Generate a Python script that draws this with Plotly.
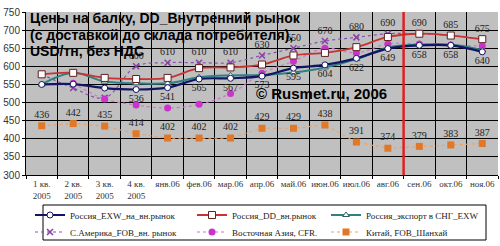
import plotly.graph_objects as go

categories = ["1 кв.<br>2005", "2 кв.<br>2005", "3 кв.<br>2005", "4 кв.<br>2005",
              "янв.06", "фев.06", "мар.06", "апр.06", "май.06", "июн.06",
              "июл.06", "авг.06", "сен.06", "окт.06", "ноя.06"]

russia_exw = [550, 551, 540, 536, 541, 565, 567, 573, 595, 604, 622, 649, 658, 658, 640]
russia_dd = [578, 582, 568, 565, 568, 595, 597, 605, 630, 637, 653, 681, 690, 685, 675]
russia_cis = [550, 582, 558, 553, 553, 570, 575, 576, 583, 597, 620, 652, 660, 660, 645]
s_america = [578, 540, 513, 600, 610, 610, 610, 630, 650, 670, 680, 690, 690, 685, 675]
east_asia = [None, 553, 510, 493, 485, 495, 525, 581, 614, 650, 637, 662, 662, 659, 656]
china = [436, 442, 435, 414, 402, 402, 402, 429, 429, 438, 391, 374, 379, 383, 387]

exw_labels = [None, None, None] + russia_exw[3:]
sam_labels = [None, None, None] + s_america[3:]

names = ["Россия_EXW_на_вн.рынок", "Россия_DD_вн.рынок", "Россия_экспорт в СНГ_EXW",
         "С.Америка_FOB_вн. рынок", "Восточная Азия, CFR.", "Китай, FOB_Шанхай"]

lbl_font = dict(family="Liberation Serif", size=10, color="#222222")

# plot area geometry (pixels) used to convert to paper coords
L, R, T, B = 26, 498, 12, 175
def px(x): return (x - L) / (R - L)
def py(y): return 1 - (y - T) / (B - T)

fig = go.Figure()

fig.add_trace(go.Scatter(
    x=categories, y=s_america, name=names[3], mode="lines+markers+text",
    line=dict(color="#8a4fb0", width=1.2, dash="dot", shape="spline"),
    marker=dict(symbol="x-thin", size=6, line=dict(color="#8a3fa8", width=1.5)),
    text=[str(v) if v else "" for v in sam_labels], textposition="top center",
    textfont=lbl_font, legend="legend4"))

fig.add_trace(go.Scatter(
    x=categories, y=east_asia, name=names[4], mode="lines+markers",
    line=dict(color="#d070d0", width=1.2, dash="dot", shape="spline"),
    marker=dict(symbol="circle", size=7, color="#cc33cc"),
    legend="legend5"))

fig.add_trace(go.Scatter(
    x=categories, y=russia_cis, name=names[2], mode="lines+markers",
    line=dict(color="#2f8080", width=2, shape="spline"),
    marker=dict(symbol="triangle-up", size=6, color="white", line=dict(color="#2f6060", width=1)),
    legend="legend3"))

fig.add_trace(go.Scatter(
    x=categories, y=russia_exw, name=names[0], mode="lines+markers+text",
    line=dict(color="#141464", width=2.2, shape="spline"),
    marker=dict(symbol="circle", size=6, color="white", line=dict(color="#141464", width=1)),
    text=[str(v) if v else "" for v in exw_labels], textposition="bottom center",
    textfont=lbl_font, legend="legend"))

fig.add_trace(go.Scatter(
    x=categories, y=russia_dd, name=names[1], mode="lines+markers",
    line=dict(color="#c83232", width=1.8, shape="spline"),
    marker=dict(symbol="square", size=7, color="white", line=dict(color="#602020", width=1)),
    legend="legend2"))

fig.add_trace(go.Scatter(
    x=categories, y=china, name=names[5], mode="lines+markers+text",
    line=dict(color="#f0a060", width=1.2, dash="dot"),
    marker=dict(symbol="square", size=7, color="#e07828"),
    text=[str(v) for v in china], textposition="top center",
    textfont=lbl_font, legend="legend6"))

# red vertical marker between авг and сен
fig.add_shape(type="line", xref="x", yref="paper", x0=11.5, x1=11.5, y0=0, y1=1,
              line=dict(color="#e02020", width=2.5))
# legend frame
fig.add_shape(type="rect", xref="paper", yref="paper", x0=px(43), x1=px(486),
              y0=py(240), y1=py(205), line=dict(color="black", width=1),
              layer="above")

title_font = dict(family="Liberation Sans", size=14, color="black")
for txt, yy in [("<b>Цены на балку, DD_Внутренний рынок</b>", 18),
                ("<b>(с доставкой до склада потребителя),</b>", 34.5),
                ("<b>USD/тн, без НДС</b>", 51)]:
    fig.add_annotation(text=txt, xref="paper", yref="paper", x=px(28),
                       y=py(yy), xanchor="left", yanchor="middle",
                       showarrow=False, font=title_font)
fig.add_annotation(text="<b>© Rusmet.ru, 2006</b>", xref="paper", yref="paper",
                   x=px(254), y=py(93), xanchor="left",
                   yanchor="middle", showarrow=False,
                   font=dict(family="Liberation Sans", size=15, color="black"))

leg_font = dict(family="Liberation Serif", size=9, color="#222222")
def leg(xpix, ypix):
    return dict(orientation="v", x=px(xpix), y=py(ypix), xanchor="left", yanchor="middle",
                bgcolor="rgba(0,0,0,0)", borderwidth=0, itemwidth=30,
                tracegroupgap=0, font=leg_font)

fig.update_layout(
    width=500, height=246,
    margin=dict(l=L, r=500 - R, t=T, b=246 - B, autoexpand=False),
    paper_bgcolor="white", plot_bgcolor="#c0c0c0",
    showlegend=True,
    legend=leg(30, 215), legend2=leg(192, 215), legend3=leg(326, 215),
    legend4=leg(30, 232), legend5=leg(192, 232), legend6=leg(326, 232),
    xaxis=dict(type="category", tickson="boundaries", showgrid=True,
               gridcolor="black", gridwidth=1, ticks="outside", ticklen=3,
               tickcolor="black", showline=True, linecolor="black",
               tickfont=dict(family="Liberation Serif", size=9, color="#333333"),
               tickangle=0, range=[-0.5, 14.5], automargin=False),
    yaxis=dict(range=[300, 750], dtick=50, showgrid=True, gridcolor="black",
               gridwidth=1, ticks="outside", ticklen=3, tickcolor="black",
               showline=True, linecolor="black", automargin=False,
               tickfont=dict(family="Liberation Sans", size=10, color="#333333")),
)

fig.write_html("out.html")
